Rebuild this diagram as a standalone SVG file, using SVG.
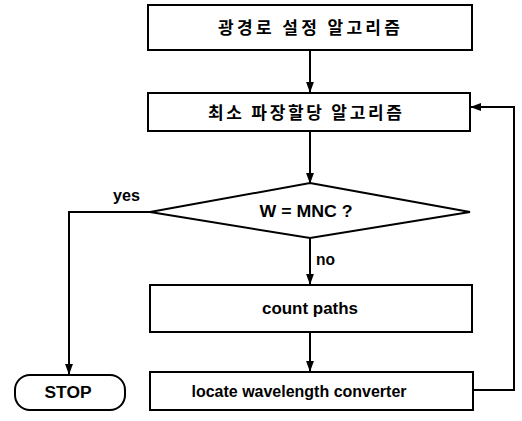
<svg xmlns="http://www.w3.org/2000/svg" width="522" height="421" viewBox="0 0 522 421">
<defs>
<marker id="ah" markerWidth="11" markerHeight="15" refX="14" refY="5.5" orient="auto" markerUnits="userSpaceOnUse" viewBox="0 0 15 11">
<path d="M0,0 L15,5.5 L0,11 Z" fill="#000"/>
</marker>
<style>
.box{fill:#fff;stroke:#000;stroke-width:2}
.ln{fill:none;stroke:#000;stroke-width:2}
.en{font-family:"Liberation Sans",Arial,sans-serif;font-weight:bold;font-size:16px;fill:#000}
.ko{font-family:"Noto Sans CJK KR","Liberation Sans",sans-serif;font-weight:bold;font-size:17px;fill:#000}
</style>
</defs>
<rect width="522" height="421" fill="#fff"/>
<g id="connectors">
<line class="ln" x1="310" y1="50" x2="310" y2="92" marker-end="url(#ah)"/>
<line class="ln" x1="310" y1="131" x2="310" y2="183" marker-end="url(#ah)"/>
<line class="ln" x1="310" y1="238" x2="310" y2="284" marker-end="url(#ah)"/>
<line class="ln" x1="310" y1="332" x2="310" y2="371" marker-end="url(#ah)"/>
<polyline class="ln" points="150,212 69,212 69,374" marker-end="url(#ah)"/>
<polyline class="ln" points="473,390 514,390 514,107 471,107" marker-end="url(#ah)"/>
<text class="en" x="113" y="201" textLength="27" lengthAdjust="spacingAndGlyphs">yes</text>
<text class="en" x="316" y="265" textLength="19" lengthAdjust="spacingAndGlyphs">no</text>
</g>
<g id="n1">
<rect class="box" x="148" y="5" width="324" height="45"/>
<text class="ko" x="309" y="34" text-anchor="middle" textLength="182" lengthAdjust="spacing">광경로 설정 알고리즘</text>
</g>
<g id="n2">
<rect class="box" x="148" y="93" width="322" height="38"/>
<text class="ko" x="305" y="119" text-anchor="middle" textLength="194" lengthAdjust="spacing">최소 파장할당 알고리즘</text>
</g>
<g id="n3">
<polygon class="box" points="310,183 470,212 310,238 150,212"/>
<text class="en" x="306" y="217" text-anchor="middle" textLength="93" lengthAdjust="spacingAndGlyphs">W = MNC ?</text>
</g>
<g id="n4">
<rect class="box" x="150" y="285" width="322" height="47"/>
<text class="en" x="310" y="314" text-anchor="middle" textLength="96" lengthAdjust="spacingAndGlyphs">count paths</text>
</g>
<g id="n5">
<rect class="box" x="150" y="372" width="323" height="38"/>
<text class="en" x="299" y="397" text-anchor="middle" textLength="215" lengthAdjust="spacingAndGlyphs">locate wavelength converter</text>
</g>
<g id="n6">
<rect class="box" x="15" y="375" width="110" height="35" rx="15" ry="15"/>
<text class="en" x="68" y="398" text-anchor="middle" textLength="47" lengthAdjust="spacingAndGlyphs">STOP</text>
</g>
</svg>
